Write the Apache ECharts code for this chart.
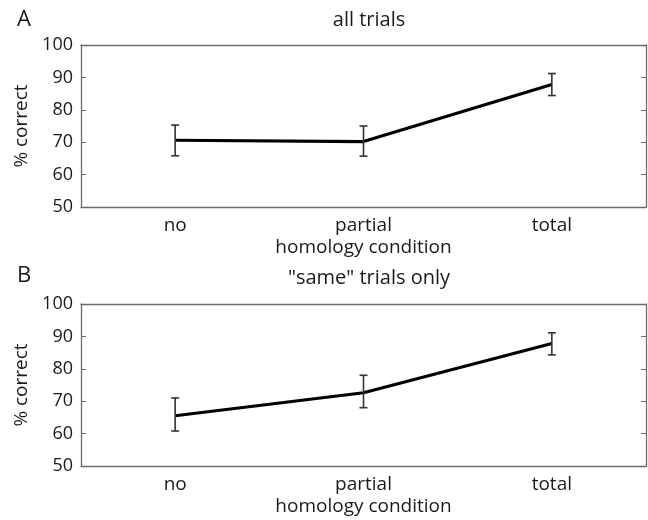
<!DOCTYPE html>
<html>
<head>
<meta charset="utf-8">
<style>
  html, body { margin: 0; padding: 0; background: #fff; }
  #chart { width: 648px; height: 520px; }
</style>
<script src="https://cdn.jsdelivr.net/npm/echarts@6/dist/echarts.min.js"></script>
</head>
<body>
<div id="chart"></div>
<script>
// homology condition categories
const categories = ['no', 'partial', 'total'];
const yTicks = [50, 60, 70, 80, 90, 100];

// panel A: all trials
const meanA = [70.6, 70.2, 87.8];
const upperA = [75.3, 75.0, 91.2];
const lowerA = [65.8, 65.7, 84.4];

// panel B: "same" trials only
const meanB = [65.5, 72.6, 87.8];
const upperB = [71.0, 78.0, 91.1];
const lowerB = [60.8, 68.0, 84.3];

const panelTitles = ['all trials', '"same" trials only'];
const panelLetters = ['A', 'B'];

const font = 'Open Sans';
const axisColor = '#6a6a6a';
const textColor = '#1a1a1a';

const chart = echarts.init(document.getElementById('chart'));

// 网格位置
const grids = [
    { left: 81, top: 45, width: 565, height: 162 },
    { left: 81, top: 304, width: 565, height: 162 }
];

function bottomAxis(i) {
    return {
        type: 'category', gridIndex: i, position: 'bottom', data: categories,
        boundaryGap: true,
        name: 'homology condition', nameLocation: 'middle', nameGap: 31,
        nameTextStyle: { fontFamily: font, fontSize: 19, color: textColor },
        axisLine: { lineStyle: { color: axisColor, width: 1.3 } },
        axisTick: { alignWithLabel: true, inside: true, length: 5, lineStyle: { color: axisColor } },
        axisLabel: { margin: 9, fontFamily: font, fontSize: 19, color: textColor }
    };
}
function topAxis(i) {
    return {
        type: 'category', gridIndex: i, position: 'top', data: categories,
        boundaryGap: true,
        axisLine: { lineStyle: { color: axisColor, width: 1.3 } },
        axisTick: { alignWithLabel: true, inside: true, length: 5, lineStyle: { color: axisColor } },
        axisLabel: { show: false }
    };
}
function leftAxis(i) {
    return {
        type: 'value', gridIndex: i, position: 'left', min: 50, max: 100, interval: 10,
        name: '% correct', nameLocation: 'middle', nameGap: 47, nameRotate: 90,
        nameTextStyle: { fontFamily: font, fontSize: 19, color: textColor },
        axisLine: { show: true, lineStyle: { color: axisColor, width: 1.3 } },
        axisTick: { show: true, inside: true, length: 5, lineStyle: { color: axisColor } },
        axisLabel: {
            margin: 8, fontFamily: font, fontSize: 18, color: textColor,
            formatter: (v) => (yTicks.indexOf(v) >= 0 ? String(v) : '')
        },
        splitLine: { show: false }
    };
}
function rightAxis(i) {
    return {
        type: 'value', gridIndex: i, position: 'right', min: 50, max: 100, interval: 10,
        axisLine: { show: true, lineStyle: { color: axisColor, width: 1.3 } },
        axisTick: { show: true, inside: true, length: 5, lineStyle: { color: axisColor } },
        axisLabel: { show: false },
        splitLine: { show: false }
    };
}

// 误差线
function errorSeries(i, lower, upper) {
    return {
        type: 'custom', xAxisIndex: i * 2, yAxisIndex: i * 2, z: 5,
        data: categories.map((c, k) => [k, lower[k], upper[k]]),
        renderItem(params, api) {
            const lo = api.coord([api.value(0), api.value(1)]);
            const hi = api.coord([api.value(0), api.value(2)]);
            const hw = 4;
            const style = { stroke: '#333', lineWidth: 1.6 };
            return {
                type: 'group',
                children: [
                    { type: 'line', shape: { x1: lo[0], y1: lo[1], x2: hi[0], y2: hi[1] }, style },
                    { type: 'line', shape: { x1: hi[0] - hw, y1: hi[1], x2: hi[0] + hw, y2: hi[1] }, style },
                    { type: 'line', shape: { x1: lo[0] - hw, y1: lo[1], x2: lo[0] + hw, y2: lo[1] }, style }
                ]
            };
        }
    };
}
function meanSeries(i, mean) {
    return {
        type: 'line', xAxisIndex: i * 2, yAxisIndex: i * 2, z: 4,
        data: mean, symbol: 'none',
        lineStyle: { color: '#000', width: 3.2 }
    };
}

const xAxes = [], yAxes = [];
[0, 1].forEach((i) => {
    xAxes.push(bottomAxis(i), topAxis(i));
    yAxes.push(leftAxis(i), rightAxis(i));
});

const titleStyle = { fontFamily: font, fontSize: 20, fontWeight: 'normal', color: textColor };
const letterStyle = { fontFamily: font, fontSize: 22, fontWeight: 'normal', color: textColor };

chart.setOption({
    animation: false,
    textStyle: { fontFamily: font },
    title: [
        { text: panelTitles[0], left: 364, top: 5, textAlign: 'center', textStyle: titleStyle },
        { text: panelTitles[1], left: 364, top: 263, textAlign: 'center', textStyle: titleStyle },
        { text: panelLetters[0], left: 12, top: 4, textStyle: letterStyle },
        { text: panelLetters[1], left: 12, top: 260, textStyle: letterStyle }
    ],
    grid: grids,
    xAxis: xAxes,
    yAxis: yAxes,
    series: [
        meanSeries(0, meanA), errorSeries(0, lowerA, upperA),
        meanSeries(1, meanB), errorSeries(1, lowerB, upperB)
    ]
});
</script>
</body>
</html>
